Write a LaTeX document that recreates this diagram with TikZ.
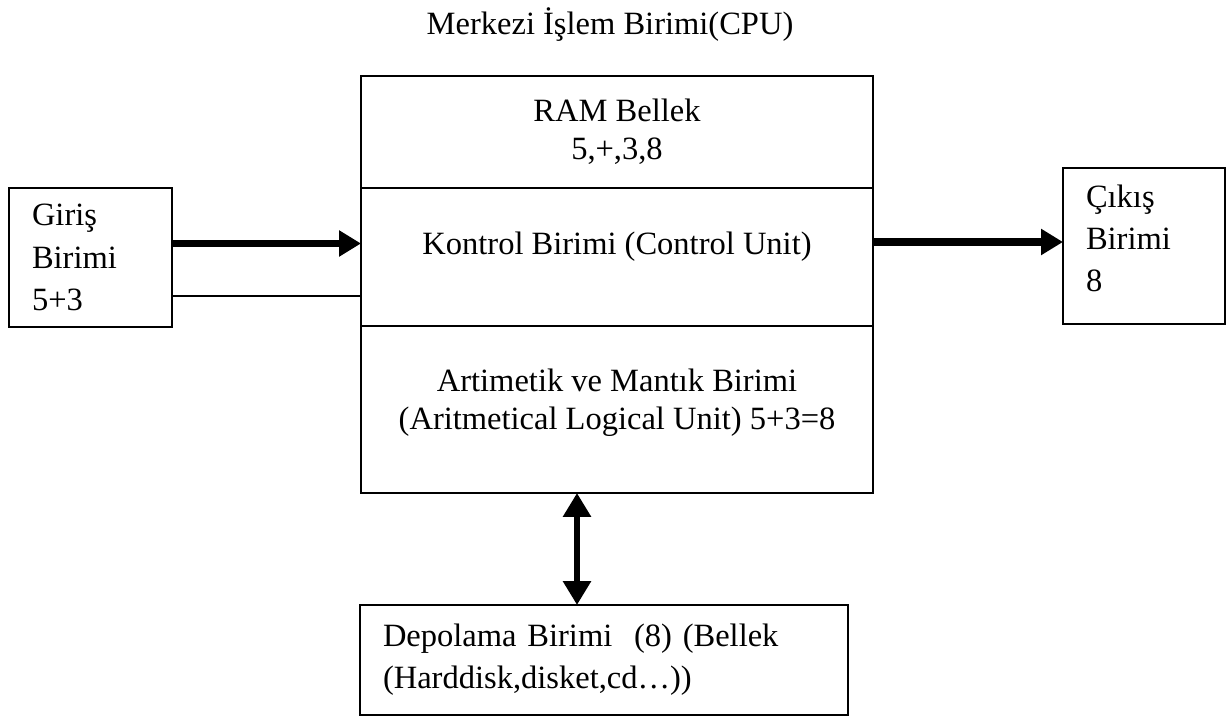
\documentclass[tikz,border=0pt]{standalone}
\usepackage{fontspec}
\setmainfont{Liberation Serif}
\usetikzlibrary{positioning, arrows.meta}
\tikzstyle{unit} = [rectangle, draw=black, line width=1.1pt, outer sep=0pt, inner sep=0pt, minimum width=10.24cm, align=center]
\tikzstyle{io} = [rectangle, draw=black, line width=1.1pt, outer sep=0pt, inner xsep=0.46cm, align=left]
\tikzstyle{arrow} = [line width=4.5pt, -{Triangle[length=0.44cm, width=0.5cm]}]
\tikzstyle{dblarrow} = [line width=3.6pt, {Triangle[length=0.48cm, width=0.54cm]}-{Triangle[length=0.48cm, width=0.54cm]}]
\tikzstyle{wire} = [line width=0.8pt]

\begin{document}
\begin{tikzpicture}[node distance=0cm, font=\fontsize{18.5}{24}\selectfont]
\useasboundingbox (0,0) rectangle (24.54,-14.36);

\node (title) at (12.2,-0.5) {Merkezi İşlem Birimi(CPU)};

\node (ram) [unit, anchor=north west, minimum height=2.24cm, font=\fontsize{18.5}{21.5}\selectfont] at (7.22,-1.52) {RAM Bellek\\5,+,3,8};

\node (ctrl) [unit, below=of ram, minimum height=2.76cm, text depth=0.56cm] {Kontrol Birimi (Control Unit)};

\node (alu) [unit, below=of ctrl, minimum height=3.34cm, text depth=0.4cm, font=\fontsize{18.5}{21.5}\selectfont] {Artimetik ve Mantık Birimi\\(Aritmetical Logical Unit) 5+3=8};

\node (giris) [io, anchor=north west, minimum width=3.26cm, minimum height=2.78cm, text width=2.34cm] at (0.18,-3.76) {Giriş\\Birimi\\5+3};

\node (cikis) [io, anchor=north west, minimum width=3.24cm, minimum height=3.12cm, text width=2.32cm, text depth=2cm] at (21.26,-3.36) {Çıkış\\Birimi\\8};

\node (depo) [io, anchor=north west, minimum width=9.76cm, minimum height=2.2cm, text width=8.84cm] at (7.2,-12.1) {Depolama Birimi~~(8) (Bellek\\(Harddisk,disket,cd\ldots))};

\draw [arrow] ([yshift=0.28cm]giris.east) -- ([yshift=0.28cm]giris.east -| ctrl.west);
\draw [wire] ([yshift=-0.77cm]giris.east) -- ([yshift=-0.77cm]giris.east -| ctrl.west);
\draw [arrow] ([yshift=0.3cm]ctrl.east) -- ([yshift=0.3cm]ctrl.east -| cikis.west);
\draw [dblarrow] ([xshift=-0.8cm]alu.south) -- ([xshift=-0.8cm]alu.south |- depo.north);

\end{tikzpicture}
\end{document}
